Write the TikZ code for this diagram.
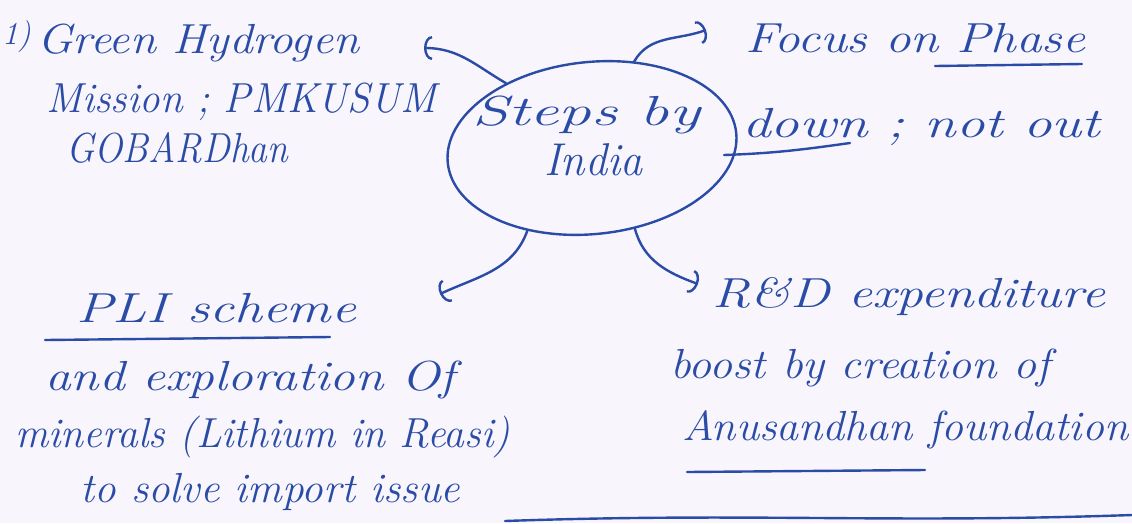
\documentclass[tikz,border=0pt]{standalone}
\usepackage{graphicx}
\usetikzlibrary{arrows.meta,shapes.geometric}
\definecolor{ink}{HTML}{2A4BA6}
\definecolor{paper}{HTML}{F8F6FC}
\newcommand{\hwt}[2]{\resizebox{#1}{\height}{#2}}
\begin{document}
\begin{tikzpicture}[x=1pt,y=1pt,
  hw/.style={text=ink, font=\fontsize{42}{48}\selectfont\itshape, inner sep=0pt, anchor=base west},
  inkline/.style={draw=ink, line width=2.4pt, line cap=round, line join=round},
  arr/.style={inkline, -{Arc Barb[length=8pt,width=24pt,line width=2.4pt]}},
]
\fill[paper] (0,0) rectangle (1132,-523);
\useasboundingbox (0,0) rectangle (1132,-523);

% centre
\node[ellipse, draw=ink, line width=2.4pt, minimum width=290pt, minimum height=172pt,
      inner sep=0pt, rotate=6] (c) at (592,-148) {};
\node[hw] (c1) at (472,-125) {\hwt{228pt}{Steps by}};
\node[hw, font=\fontsize{46}{50}\selectfont\itshape] (c2) at (544,-175) {\hwt{98pt}{India}};

% left top
\node[hw, font=\fontsize{32}{36}\selectfont\itshape] (num) at (2,-44) {1)};
\node[hw] (gh) at (37,-53) {\hwt{322pt}{Green Hydrogen}};
\node[hw] (mis) at (46,-112) {\hwt{390pt}{Mission ; PMKUSUM}};
\node[hw] (gob) at (66,-162) {\hwt{222pt}{GOBARDhan}};

% right top
\node[hw] (f1) at (745,-52) {\hwt{340pt}{Focus on Phase}};
\node[hw] (f2) at (742,-137) {\hwt{358pt}{down ; not out}};

% left bottom
\node[hw] (p1) at (76,-322) {\hwt{280pt}{PLI scheme}};
\node[hw] (p2) at (45,-390) {\hwt{410pt}{and exploration Of}};
\node[hw] (p3) at (15,-447) {\hwt{495pt}{minerals (Lithium in Reasi)}};
\node[hw] (p4) at (80,-502) {\hwt{380pt}{to solve import issue}};

% right bottom
\node[hw] (r1) at (712,-307) {\hwt{393pt}{R\&D expenditure}};
\node[hw] (r2) at (670,-378) {\hwt{380pt}{boost by creation of}};
\node[hw] (r3) at (682,-440) {\hwt{446pt}{Anusandhan foundation}};

% arrow tips
\coordinate (t1) at (424,-48);
\coordinate (t2) at (706,-30);
\coordinate (t3) at (440,-294);
\coordinate (t4) at (698,-284);

\draw[arr] (c.137) to[out=150,in=0] (t1);
\draw[arr] (c.58) to[out=60,in=200] (t2);
\draw[arr] (c.226) to[out=250,in=25] (t3);
\draw[arr] (c.292) to[out=-75,in=160] (t4);

% underlines
\coordinate (u2) at (724,-155);
\draw[inkline] (935,-66) -- (1082,-64);
\draw[inkline] (u2) to[out=2,in=188] (850,-143);
\draw[inkline] (45,-340) -- (330,-337);
\draw[inkline] (687,-472) -- (925,-470);
\draw[inkline] (505,-521) to[out=2,in=182] (1132,-515);
\end{tikzpicture}
\end{document}
